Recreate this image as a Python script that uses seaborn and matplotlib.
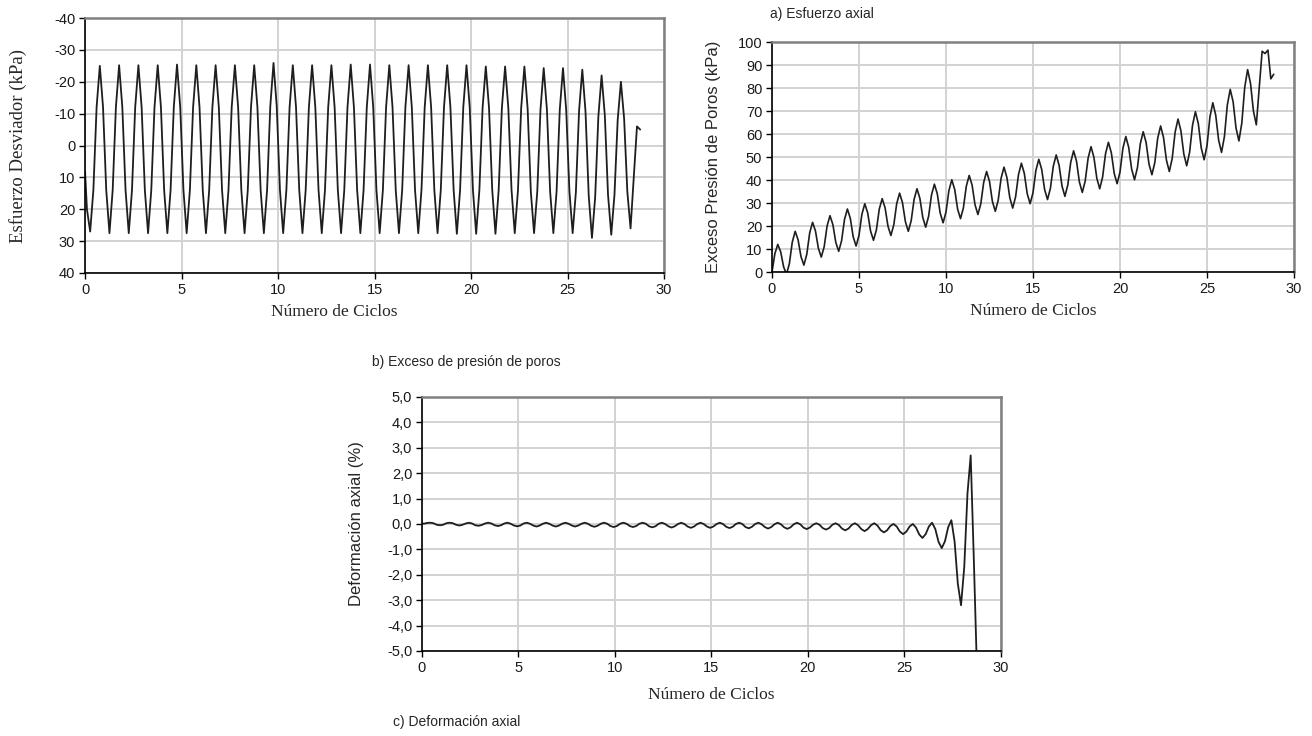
import numpy as np
import pandas as pd
import seaborn as sns
import matplotlib.pyplot as plt
from matplotlib.ticker import FuncFormatter, MultipleLocator

# a) Esfuerzo desviador (kPa): primer valor en 0 ciclos, luego desde 0.1
esfuerzo_desviador = [
    8,
    20, 27, 14, -12, -25, -12,              # 0
    14, 27.5, 14, -12, -25.2, -12,          # 1
    14, 27.5, 14, -12, -25.2, -12,          # 2
    14, 27.5, 14, -12, -25.2, -12,          # 3
    14, 27.5, 14, -12, -25.4, -12,          # 4
    14, 27.5, 14, -12, -25.2, -12,          # 5
    14, 27.5, 14, -12, -25.2, -12,          # 6
    14, 27.5, 14, -12, -25.2, -12,          # 7
    14, 27.5, 14, -12, -25.2, -12,          # 8
    14, 27.5, 14, -12.3, -25.9, -12.3,      # 9
    14, 27.5, 14, -12, -25.2, -12,          # 10
    14, 27.5, 14, -12, -25.2, -12,          # 11
    14, 27.5, 14, -12, -25.2, -12,          # 12
    14, 27.5, 14, -12, -25.4, -12,          # 13
    14, 27.5, 14, -12, -25.4, -12,          # 14
    14, 27.5, 14, -12, -25.2, -12,          # 15
    14, 27.5, 14, -12, -25.2, -12,          # 16
    14, 27.5, 14, -12, -25.2, -12,          # 17
    14, 27.5, 14, -12, -25.2, -12,          # 18
    14, 27.7, 14, -12, -25.2, -12,          # 19
    14, 27.7, 14, -11.8, -24.8, -11.8,      # 20
    14, 27.7, 14, -11.8, -24.8, -11.8,      # 21
    14, 27.5, 14, -11.8, -24.8, -11.6,      # 22
    14.5, 27.5, 14.5, -11.3, -24.3, -11.3,  # 23
    14.5, 27.5, 14.5, -11.3, -24.3, -11,    # 24
    14.5, 27.5, 14.7, -11, -23.8, -10.6,    # 25
    15.8, 29, 16.2, -9.2, -22, -9.5,        # 26
    15.5, 28, 15.5, -8, -20, -8.5,          # 27
    14.5, 26, 10, -6, -5,                   # 28
]

# b) Exceso de presion de poros (kPa), desde 0 ciclos
exceso_presion = [
    0, 8, 12, 8.8, 2.3, -1,                 # 0
    3.7, 13, 17.7, 14, 6.7, 3,              # 1
    7.7, 17, 21.6, 17.8, 10.3, 6.5,         # 2
    11, 20, 24.5, 20.6, 12.9, 9,            # 3
    13.6, 22.8, 27.4, 23.4, 15.3, 11.3,     # 4
    15.9, 25.1, 29.7, 25.7, 17.8, 13.8,     # 5
    18.3, 27.4, 31.9, 27.9, 19.9, 15.9,     # 6
    20.5, 29.7, 34.3, 30.1, 21.9, 17.7,     # 7
    22.3, 31.6, 36.2, 32, 23.7, 19.5,       # 8
    24.2, 33.5, 38.2, 34, 25.6, 21.4,       # 9
    26.1, 35.4, 40.1, 35.9, 27.4, 23.2,     # 10
    27.9, 37.3, 42, 37.8, 29.3, 25,         # 11
    29.7, 39, 43.7, 39.4, 30.7, 26.4,       # 12
    31.2, 40.8, 45.6, 41.1, 32.3, 27.8,     # 13
    32.7, 42.4, 47.3, 42.9, 34.1, 29.7,     # 14
    34.5, 44.2, 49, 44.6, 35.9, 31.5,       # 15
    36.4, 46, 50.9, 46.4, 37.4, 32.9,       # 16
    37.9, 47.7, 52.7, 48.2, 39.1, 34.6,     # 17
    39.6, 49.5, 54.5, 49.9, 40.8, 36.2,     # 18
    41.3, 51.4, 56.4, 51.9, 42.9, 38.4,     # 19
    43.5, 53.8, 58.9, 54.2, 44.8, 40.1,     # 20
    45.3, 55.8, 61, 56.3, 46.9, 42.3,       # 21
    47.6, 58.2, 63.5, 58.5, 48.7, 43.7,     # 22
    49.4, 60.8, 66.5, 61.4, 51.3, 46.2,     # 23
    52.1, 63.8, 69.7, 64.5, 54, 48.8,       # 24
    55, 67.4, 73.6, 68.2, 57.4, 52,         # 25
    58.9, 72.6, 79.4, 74, 62.6, 57,         # 26
    64.8, 80.3, 88, 82, 70, 64,             # 27
    80, 96, 95, 96.5, 84, 86,               # 28
]

# c) Deformacion axial (%): primer valor en 0 ciclos, luego desde 0.1
deformacion_axial = [
    0.03,
    0.01, 0.04, 0.05, 0.03, -0.03, -0.05,       # 0
    -0.03, 0.03, 0.05, 0.03, -0.03, -0.06,      # 1
    -0.03, 0.02, 0.05, 0.02, -0.05, -0.07,      # 2
    -0.04, 0.02, 0.05, 0.02, -0.05, -0.08,      # 3
    -0.05, 0.02, 0.05, 0.01, -0.06, -0.09,      # 4
    -0.06, 0.02, 0.05, 0.01, -0.06, -0.10,      # 5
    -0.06, 0.01, 0.05, 0.01, -0.06, -0.10,      # 6
    -0.06, 0.01, 0.05, 0.01, -0.06, -0.10,      # 7
    -0.06, 0.01, 0.05, 0.01, -0.07, -0.11,      # 8
    -0.07, 0.01, 0.05, 0.01, -0.08, -0.12,      # 9
    -0.08, 0.01, 0.05, 0.01, -0.08, -0.12,      # 10
    -0.08, 0.01, 0.05, 0.01, -0.09, -0.13,      # 11
    -0.09, 0.01, 0.05, 0.00, -0.09, -0.14,      # 12
    -0.09, 0.00, 0.05, 0.00, -0.10, -0.15,      # 13
    -0.10, 0.00, 0.05, 0.00, -0.10, -0.15,      # 14
    -0.10, 0.00, 0.05, 0.00, -0.11, -0.16,      # 15
    -0.11, 0.00, 0.05, 0.00, -0.12, -0.17,      # 16
    -0.11, 0.00, 0.05, -0.01, -0.12, -0.18,     # 17
    -0.12, -0.01, 0.05, -0.01, -0.13, -0.19,    # 18
    -0.13, -0.01, 0.05, -0.01, -0.14, -0.20,    # 19
    -0.14, -0.03, 0.03, -0.03, -0.16, -0.22,    # 20
    -0.16, -0.03, 0.03, -0.04, -0.18, -0.25,    # 21
    -0.18, -0.04, 0.03, -0.05, -0.20, -0.28,    # 22
    -0.20, -0.05, 0.03, -0.06, -0.24, -0.33,    # 23
    -0.25, -0.08, 0.00, -0.10, -0.30, -0.40,    # 24
    -0.30, -0.10, 0.00, -0.14, -0.41, -0.55,    # 25
    -0.40, -0.10, 0.05, -0.20, -0.70, -0.95,    # 26
    -0.68, -0.13, 0.15, -0.69, -2.35, -3.20,    # 27
    -1.70, 1.20, 2.70, -1.50, -6.00,            # 28
]

# Eje de ciclos (reloj de muestreo: 6 muestras por ciclo).
ciclos_ac = np.concatenate(([0.0], 0.1 + np.arange(len(esfuerzo_desviador) - 1) / 6))
ciclos_b = np.arange(len(exceso_presion)) / 6

sns.set_theme(style="whitegrid")
plt.rcParams['font.family'] = ['Liberation Sans', 'DejaVu Sans']
plt.rcParams['axes.unicode_minus'] = False

SERIF = 'Liberation Serif'
LINE = '#1e1e1e'


def estilo(ax):
    ax.set_xlim(0, 30)
    ax.xaxis.set_major_locator(MultipleLocator(5))
    ax.grid(True, color='#d2d2d2', lw=1.4)
    ax.set_axisbelow(True)
    ax.set_facecolor('white')
    for s in ['left', 'bottom']:
        ax.spines[s].set(color='black', lw=1.2)
    for s in ['top', 'right']:
        ax.spines[s].set(color='#808080', lw=1.8)
    ax.tick_params(direction='out', length=4, width=1, color='black',
                   labelsize=10.5, labelcolor='#1a1a1a', pad=3,
                   left=True, bottom=True)


fig = plt.figure(figsize=(13.12, 7.36), dpi=100)
ax1 = fig.add_axes([0.0648, 0.6291, 0.4413, 0.3464])
ax2 = fig.add_axes([0.5884, 0.6304, 0.3979, 0.3125])
ax3 = fig.add_axes([0.3216, 0.1155, 0.4413, 0.3451])

# a) Esfuerzo desviador
sns.lineplot(x=ciclos_ac, y=esfuerzo_desviador, ax=ax1, color=LINE,
             lw=1.3, estimator=None, sort=False)
estilo(ax1)
ax1.set_ylim(40, -40)
ax1.yaxis.set_major_locator(MultipleLocator(10))
ax1.set_ylabel('Esfuerzo Desviador (kPa)', family=SERIF, fontsize=13.5)
ax1.set_xlabel('Número de Ciclos', family=SERIF, fontsize=12.5, va='center')
ax1.yaxis.set_label_coords(-0.1, 0.5)
ax1.xaxis.set_label_coords(0.43, -0.153)

# b) Exceso de presion de poros
sns.lineplot(x=ciclos_b, y=exceso_presion, ax=ax2, color=LINE,
             lw=1.2, estimator=None, sort=False)
estilo(ax2)
ax2.set_ylim(0, 100)
ax2.yaxis.set_major_locator(MultipleLocator(10))
ax2.set_ylabel('Exceso Presión de Poros (kPa)', fontsize=12)
ax2.set_xlabel('Número de Ciclos', family=SERIF, fontsize=12.5, va='center')
ax2.yaxis.set_label_coords(-0.097, 0.5)
ax2.xaxis.set_label_coords(0.5, -0.17)

# c) Deformacion axial
sns.lineplot(x=ciclos_ac, y=deformacion_axial, ax=ax3, color=LINE,
             lw=1.3, estimator=None, sort=False)
estilo(ax3)
ax3.set_ylim(-5, 5)
ax3.yaxis.set_major_locator(MultipleLocator(1))
ax3.yaxis.set_major_formatter(FuncFormatter(lambda v, p: f"{v:.1f}".replace('.', ',')))
ax3.set_ylabel('Deformación axial (%)', fontsize=12)
ax3.set_xlabel('Número de Ciclos', family=SERIF, fontsize=12.5, va='center')
ax3.yaxis.set_label_coords(-0.1, 0.5)
ax3.xaxis.set_label_coords(0.5, -0.173)

# Leyendas de cada figura
fig.text(0.587, 0.981, 'a) Esfuerzo axial', fontsize=10, va='center')
fig.text(0.2835, 0.508, 'b) Exceso de presión de poros', fontsize=10, va='center')
fig.text(0.2995, 0.019, 'c) Deformación axial', fontsize=10, va='center')

fig.savefig('out.png', dpi=100)
